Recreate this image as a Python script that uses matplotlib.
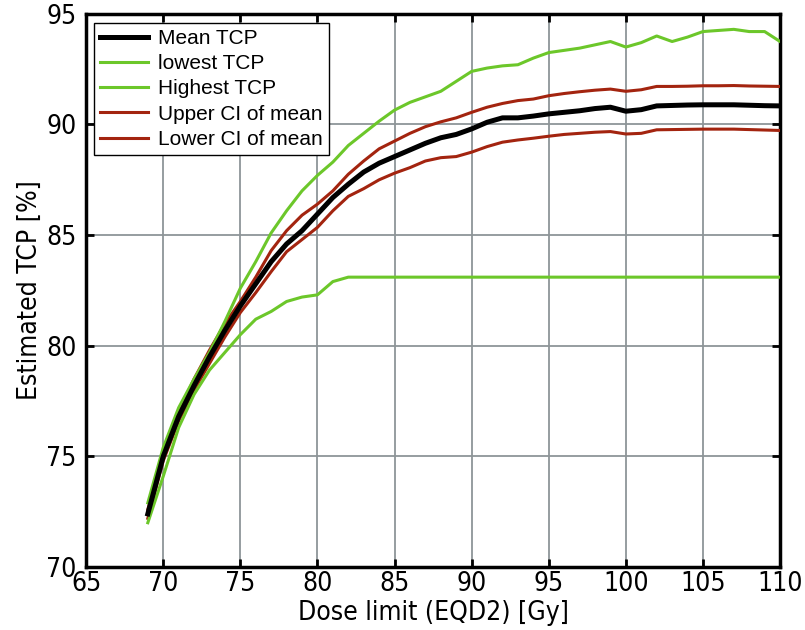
import matplotlib
matplotlib.use("Agg")
import matplotlib.pyplot as plt
from matplotlib.lines import Line2D

dose = list(range(69, 111))

mean_tcp = [72.4, 75.0, 76.8, 78.2, 79.5, 80.7, 81.8, 82.8, 83.8, 84.6,
            85.2, 85.95, 86.7, 87.3, 87.85, 88.25, 88.55, 88.85, 89.15, 89.4,
            89.55, 89.8, 90.1, 90.3, 90.3, 90.38, 90.48, 90.55, 90.62, 90.72,
            90.78, 90.6, 90.67, 90.84, 90.86, 90.88, 90.89, 90.89, 90.89, 90.87,
            90.85, 90.84]
lowest_tcp = [72.0, 74.1, 76.3, 77.8, 78.9, 79.7, 80.5, 81.2, 81.55, 82.0,
              82.2, 82.3, 82.9, 83.1, 83.1, 83.1, 83.1, 83.1, 83.1, 83.1,
              83.1, 83.1, 83.1, 83.1, 83.1, 83.1, 83.1, 83.1, 83.1, 83.1,
              83.1, 83.1, 83.1, 83.1, 83.1, 83.1, 83.1, 83.1, 83.1, 83.1,
              83.1, 83.1]
highest_tcp = [72.9, 75.4, 77.2, 78.5, 79.7, 81.1, 82.6, 83.8, 85.1, 86.1,
               87.0, 87.7, 88.3, 89.05, 89.6, 90.15, 90.65, 91.0, 91.25, 91.5,
               91.95, 92.4, 92.55, 92.65, 92.7, 93.0, 93.25, 93.35, 93.45, 93.6,
               93.75, 93.5, 93.7, 94.0, 93.75, 93.95, 94.2, 94.25, 94.3, 94.2,
               94.2, 93.75]
upper_ci = [72.6, 75.1, 77.0, 78.5, 79.8, 81.0, 82.0, 83.1, 84.3, 85.2,
            85.9, 86.4, 87.0, 87.75, 88.35, 88.9, 89.25, 89.6, 89.9, 90.12,
            90.3, 90.55, 90.78, 90.95, 91.08, 91.15, 91.3, 91.4, 91.48, 91.55,
            91.6, 91.5, 91.57, 91.72, 91.72, 91.73, 91.75, 91.75, 91.76, 91.74,
            91.73, 91.72]
lower_ci = [72.2, 74.8, 76.6, 78.0, 79.2, 80.4, 81.5, 82.4, 83.35, 84.25,
            84.8, 85.35, 86.1, 86.75, 87.1, 87.5, 87.8, 88.05, 88.35, 88.5,
            88.55, 88.75, 89.0, 89.2, 89.3, 89.38, 89.47, 89.55, 89.6, 89.65,
            89.68, 89.57, 89.6, 89.76, 89.77, 89.78, 89.79, 89.79, 89.79, 89.77,
            89.75, 89.73]

green = "#6cc72a"
red = "#a3240f"

fig = plt.figure(figsize=(8.05, 6.3), dpi=100)
ax = fig.add_axes([0.107, 0.1, 0.862, 0.878])

ax.grid(True, color="#8d9598", linewidth=1.3)
ax.set_axisbelow(True)

ax.plot(dose, lower_ci, color=red, lw=2.2, zorder=3)
ax.plot(dose, upper_ci, color=red, lw=2.2, zorder=3)
ax.plot(dose, highest_tcp, color=green, lw=2.2, zorder=3)
ax.plot(dose, lowest_tcp, color=green, lw=2.2, zorder=3)
ax.plot(dose, mean_tcp, color="black", lw=3.6, zorder=4)

ax.set_xlim(65, 110)
ax.set_ylim(70, 95)
ax.set_xticks(range(65, 111, 5))
ax.set_yticks(range(70, 96, 5))
ax.tick_params(direction="in", length=6, width=2, top=True, right=True,
               labelsize=19)
ax.tick_params(axis="x", pad=3)
ax.tick_params(axis="y", pad=7)
for lab in ax.get_xticklabels() + ax.get_yticklabels():
    lab.set_family("DejaVu Sans")
    lab.set_stretch("condensed")
for s in ax.spines.values():
    s.set_linewidth(2.5)

ax.set_xlabel("Dose limit (EQD2) [Gy]", fontsize=19, family="DejaVu Sans",
              stretch="condensed", labelpad=2)
ax.set_ylabel("Estimated TCP [%]", fontsize=19, family="DejaVu Sans",
              stretch="condensed", labelpad=2)

handles = [Line2D([], [], color="black", lw=3.6),
           Line2D([], [], color=green, lw=2.2),
           Line2D([], [], color=green, lw=2.2),
           Line2D([], [], color=red, lw=2.2),
           Line2D([], [], color=red, lw=2.2)]
labels = ["Mean TCP", "lowest TCP", "Highest TCP", "Upper CI of mean", "Lower CI of mean"]
leg = ax.legend(handles, labels, loc="upper left", bbox_to_anchor=(0.011, 0.984),
                prop={"family": "Liberation Sans", "size": 15},
                frameon=True, fancybox=False, framealpha=1,
                edgecolor="black", handlelength=2.3, handletextpad=0.5,
                labelspacing=0.3, borderpad=0.3, borderaxespad=0)
leg.get_frame().set_linewidth(1.0)
leg.set_zorder(5)

fig.savefig("out.png", dpi=100)
